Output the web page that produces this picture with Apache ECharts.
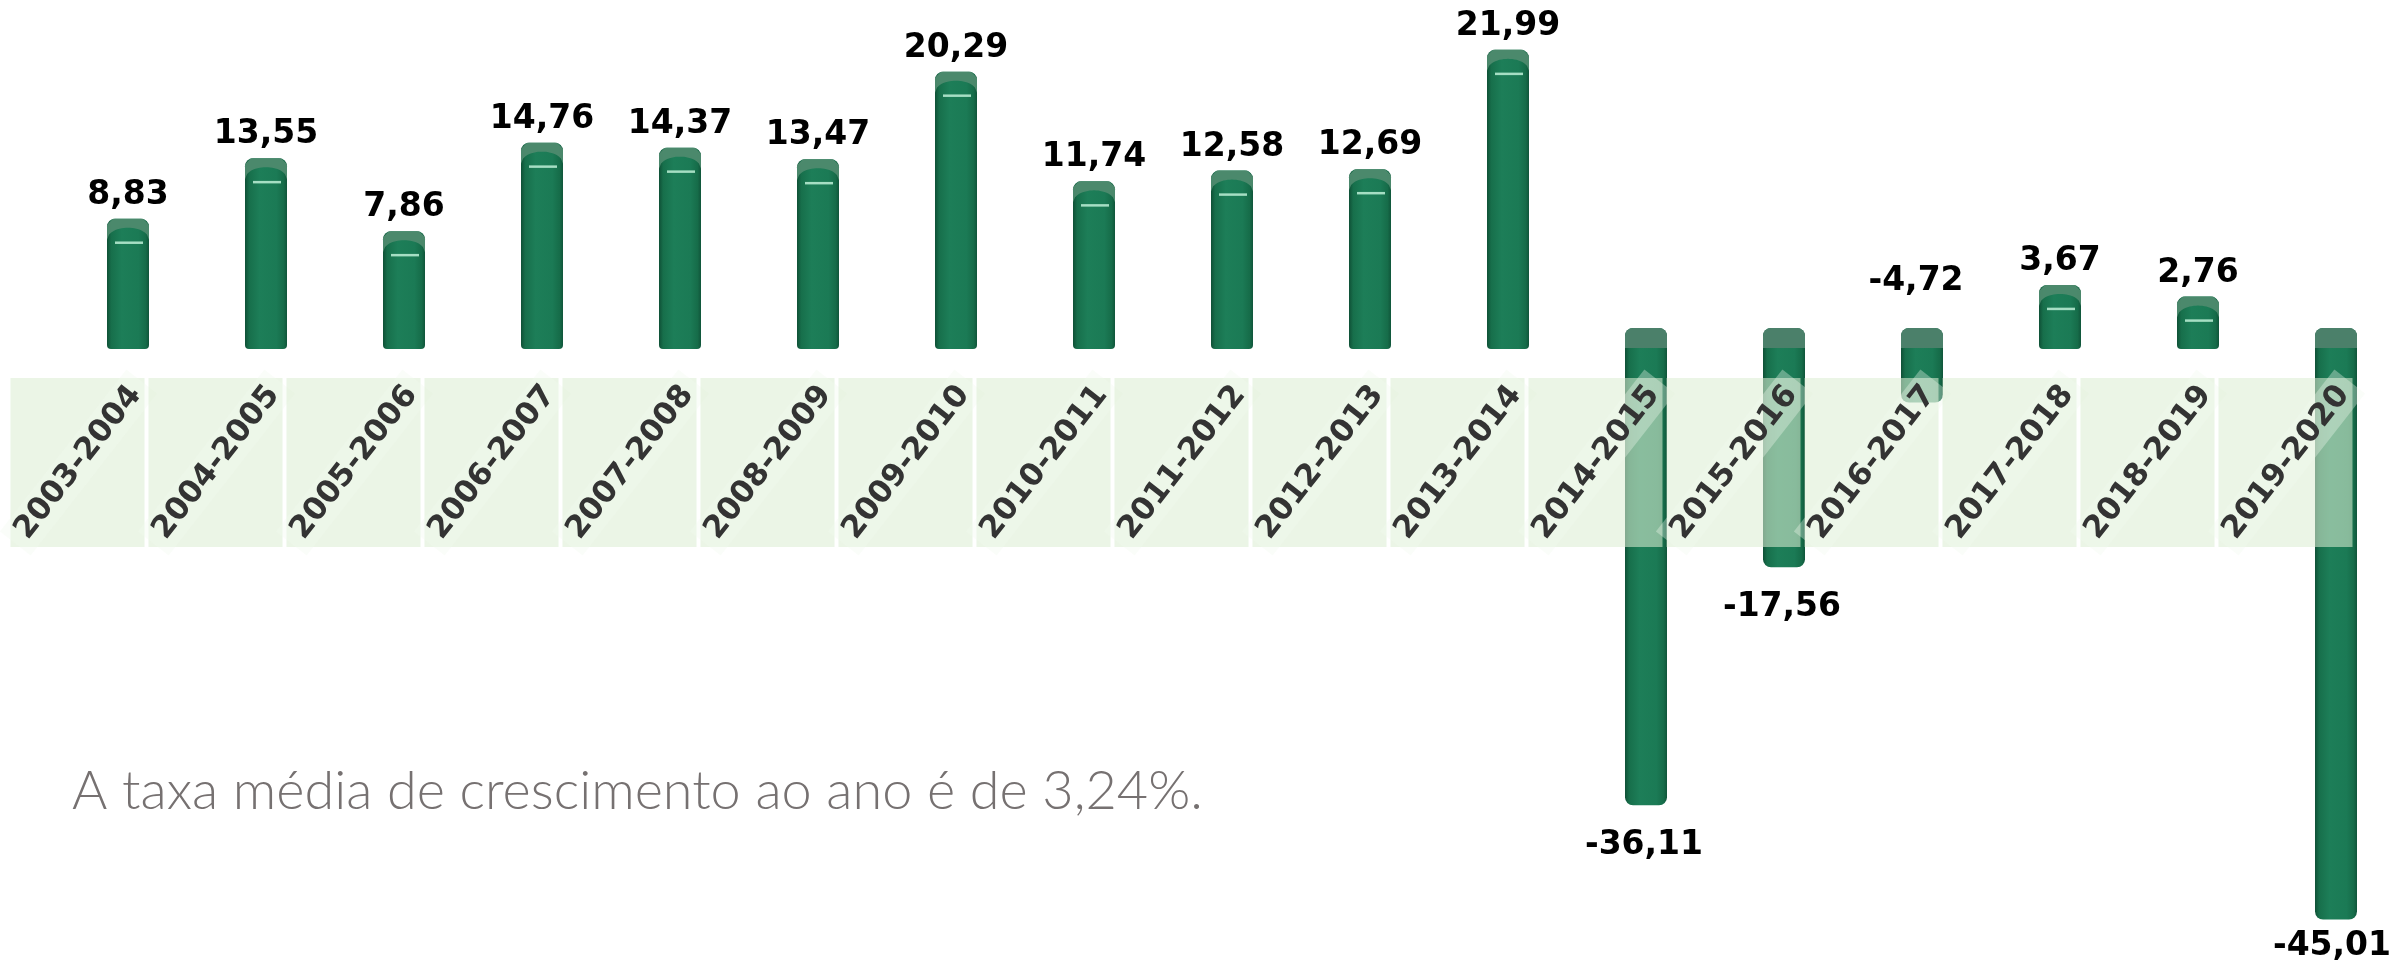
<!DOCTYPE html>
<html>
<head>
<meta charset="utf-8">
<script src="https://cdn.jsdelivr.net/npm/echarts@6/dist/echarts.min.js"></script>
<style>
  html, body { margin: 0; padding: 0; background: #ffffff; }
  #chart { width: 2395px; height: 964px; }
</style>
</head>
<body>
<div id="chart"></div>
<script>
// Growth per period (%)
const periods = ['2003-2004', '2004-2005', '2005-2006', '2006-2007', '2007-2008', '2008-2009',
  '2009-2010', '2010-2011', '2011-2012', '2012-2013', '2013-2014', '2014-2015', '2015-2016',
  '2016-2017', '2017-2018', '2018-2019', '2019-2020'];
const growth = [8.83, 13.55, 7.86, 14.76, 14.37, 13.47, 20.29, 11.74, 12.58, 12.69, 21.99,
  -36.11, -17.56, -4.72, 3.67, 2.76, -45.01];
const caption = 'A taxa média de crescimento ao ano é de 3,24%.';

const BAR_SHIFT = 50.5;   // bars sit right of the category cell centre
const BAR_W = 42;
const fmt = v => v.toFixed(2).replace('.', ',');

const bodyFill = {
  type: 'linear', x: 0, y: 0, x2: 1, y2: 0,
  colorStops: [
    { offset: 0, color: '#0f5036' },
    { offset: 0.1, color: '#176f4b' },
    { offset: 0.35, color: '#1d7e58' },
    { offset: 0.75, color: '#1b7a55' },
    { offset: 0.92, color: '#166c49' },
    { offset: 1, color: '#10553a' }
  ]
};

function renderBar(params, api) {
  const i = api.value(0), v = api.value(1);
  const base = api.coord([i, 0]);
  const end = api.coord([i, v]);
  const cx = base[0] + BAR_SHIFT;
  const zy = base[1], vy = end[1];
  const x0 = cx - BAR_W / 2, x1 = cx + BAR_W / 2;
  const kids = [];
  const labelFont = 'bold 33px "DejaVu Sans", Verdana, sans-serif';

  if (v >= 0) {
    const T = vy - 13, B = zy + 4;
    kids.push({ type: 'rect', shape: { x: x0, y: T, width: BAR_W, height: B - T, r: [8, 8, 4, 4] },
      style: { fill: bodyFill } });
    // lid with the arch of the body showing through
    const pts = [[x0, T + 6], [x0 + 6, T], [x1 - 6, T], [x1, T + 6], [x1, T + 21]];
    for (let s = 0; s <= 20; s++) {
      const t = s / 20;
      const x = x1 - t * BAR_W;
      const u = 2 * t - 1;
      pts.push([x, T + 21 - 12 * Math.sqrt(Math.max(0, 1 - u * u))]);
    }
    pts.push([x0, T + 21]);
    kids.push({ type: 'polygon', shape: { points: pts }, style: { fill: 'rgba(78,138,110,0.95)' } });
    kids.push({ type: 'line', shape: { x1: cx - 13, y1: T + 24, x2: cx + 15, y2: T + 24 },
      style: { stroke: 'rgba(190,240,215,0.85)', lineWidth: 2.5 } });
    kids.push({ type: 'text', x: cx, y: T - 7,
      style: { text: fmt(v), font: labelFont, fill: '#000', align: 'center', verticalAlign: 'bottom' } });
  } else {
    const T = zy - 17, B = vy - 3;
    kids.push({ type: 'rect', shape: { x: x0, y: T, width: BAR_W, height: B - T, r: 8 },
      style: { fill: bodyFill } });
    kids.push({ type: 'rect', shape: { x: x0, y: T, width: BAR_W, height: 20, r: [8, 8, 0, 0] },
      style: { fill: '#4b806a' } });
    if (B < zy + 100) {
      kids.push({ type: 'text', x: cx - 6, y: T - 30,
        style: { text: fmt(v), font: labelFont, fill: '#000', align: 'center', verticalAlign: 'bottom' } });
    } else {
      // keep the label inside the canvas
      const lx = Math.min(cx - 2, api.getWidth() - 63);
      const ly = Math.min(B + 24, api.getHeight() - 34);
      kids.push({ type: 'text', x: lx, y: ly,
        style: { text: fmt(v), font: labelFont, fill: '#000', align: 'center', verticalAlign: 'top' } });
    }
  }
  return { type: 'group', children: kids };
}

function renderCell(params, api) {
  const i = api.value(0);
  const base = api.coord([i, 0]);
  const cx = base[0];
  const top = base[1] + 33, h = 169;
  return {
    type: 'group',
    children: [
      { type: 'rect', shape: { x: cx - 67, y: top, width: 134, height: h },
        style: { fill: 'rgba(220,237,211,0.57)' } },
      { type: 'text', x: cx + 1, y: top + h / 2, rotation: 52 * Math.PI / 180,
        style: { text: periods[i], font: 'bold 31px "DejaVu Sans", Verdana, sans-serif',
          fill: '#333333', align: 'center', verticalAlign: 'middle',
          backgroundColor: 'rgba(242,249,238,0.35)', padding: [4, 10] } }
    ]
  };
}

const chart = echarts.init(document.getElementById('chart'));
const idx = periods.map((p, i) => [i, growth[i]]);

chart.setOption({
  animation: false,
  grid: { left: 8.5, right: 40.5, top: 24.25, bottom: 16 },
  xAxis: { type: 'category', data: periods, show: false },
  yAxis: { type: 'value', min: -47, max: 25, show: false },
  graphic: [{
    type: 'text', x: 72, y: 792,
    style: { text: caption, font: '300 54px Lato, "Open Sans", sans-serif', fill: '#767171',
      verticalAlign: 'middle' }
  }],
  series: [
    { type: 'custom', name: 'growth', renderItem: renderBar, data: idx, z: 2, clip: false },
    { type: 'custom', name: 'cells', renderItem: renderCell, data: idx, z: 3, clip: false }
  ]
});
</script>
</body>
</html>
